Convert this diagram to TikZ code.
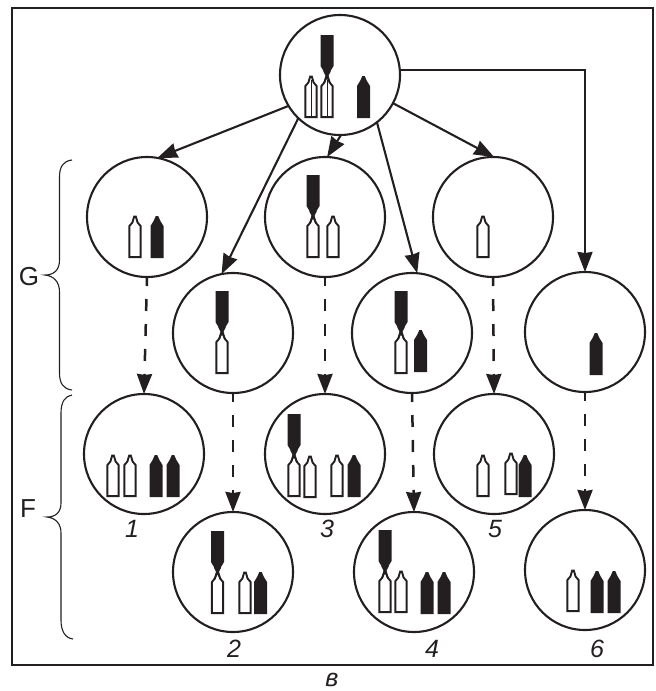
\documentclass[tikz,border=0pt]{standalone}
\usepackage{fontspec}
\setmainfont{Liberation Sans}
\usetikzlibrary{arrows.meta}
\definecolor{encre}{HTML}{231F20}
\tikzset{
	cellule/.style={draw=encre,circle,line width=2.1pt,minimum size=120pt,inner sep=0pt,outer sep=0pt},
	fleche/.style={-{Stealth[length=20pt,width=15pt,inset=1pt]},line width=2.1pt,draw=encre},
	filiation/.style={fleche,line width=2.5pt,dash pattern=on 12pt off 13pt,dash phase=3pt},
	chiffre/.style={font=\itshape\fontsize{25}{25}\selectfont,text=encre,inner sep=0pt},
	lettre/.style={font=\fontsize{26}{26}\selectfont,text=encre,inner sep=0pt},
	accolade/.style={draw=encre,line width=1.1pt},
	pics/blanc/.style={code={
		\draw [draw=encre,fill=white,line width=1.9pt,line join=miter] (-5.6,-0.9) -- (-5.6,-32) -- (-2.6,-35.5) -- (-0.8,-41.5) -- (0.8,-41.5) -- (2.6,-35.5) -- (5.6,-32) -- (5.6,-0.9) -- cycle;
	}},
	pics/noir/.style={code={
		\fill [encre] (-6.5,0) -- (-6.5,-32) -- (-3.4,-37) -- (-1.2,-42) -- (1.2,-42) -- (3.4,-37) -- (6.5,-32) -- (6.5,0) -- cycle;
	}},
	pics/trait/.style={code={
		\draw [draw=encre,line width=0.8pt] (0,-1) -- (0,-38);
	}},
	pics/long/.style={code={
		\pic {blanc};
		\draw [draw=encre,line width=1.6pt] (-3.2,-35) -- (3,-47);
		\draw [draw=encre,line width=1.6pt] (3.2,-35) -- (-3,-47);
		\fill [encre] (-6.5,-83) -- (6.5,-83) -- (6.5,-52) -- (3.5,-47) -- (1,-42) -- (-1,-42) -- (-3.5,-47) -- (-6.5,-52) -- cycle;
	}}
}
\begin{document}
\begin{tikzpicture}[x=1pt,y=-1pt]
	\useasboundingbox (0,0) rectangle (656,691);
	\draw [draw=encre,line width=2.2pt] (12,8) rectangle (653,665);
	% Cellules
	\draw (340,75) node [cellule] (mere) {};
	\draw (147,217) node [cellule] (g1) {};
	\draw (233,333) node [cellule] (g2) {};
	\draw (325,217) node [cellule] (g3) {};
	\draw (412,333) node [cellule] (g4) {};
	\draw (493,217) node [cellule] (g5) {};
	\draw (585,332) node [cellule] (g6) {};
	\draw (144,454) node [cellule] (f1) {};
	\draw (233,572) node [cellule] (f2) {};
	\draw (325,454) node [cellule] (f3) {};
	\draw (414,572) node [cellule] (f4) {};
	\draw (494,454) node [cellule] (f5) {};
	\draw (585,570) node [cellule] (f6) {};
	% Flèches
	\draw [fleche] (mere.211) -- (g1.80);
	\draw [fleche] (mere.226) -- (g2.101);
	\draw [fleche] (mere.271) -- (g3.88);
	\draw [fleche] (mere.-52) -- (g4.85);
	\draw [fleche] (mere.-28) -- (g5.89);
	\draw [fleche] (mere.5) -| (g6.north);
	\draw [filiation] (g1.south) -- (f1.north);
	\draw [filiation] (g2.south) -- (f2.north);
	\draw [filiation] (g3.south) -- (f3.north);
	\draw [filiation] (g4.south) -- (f4.north);
	\draw [filiation] (g5.south) -- (f5.north);
	\draw [filiation] (g6.south) -- (f6.north);
	% Chromosomes
	\draw (311,118) pic {blanc} pic {trait};
	\draw (327,118) pic {long} pic {trait};
	\draw (363.5,118) pic {noir};
	\draw (135,258) pic {blanc};
	\draw (157,258) pic {noir};
	\draw (222,374) pic {long};
	\draw (313,258) pic {long};
	\draw (333,258) pic {blanc};
	\draw (401,374) pic {long};
	\draw (420.5,372) pic {noir};
	\draw (483,258) pic {blanc};
	\draw (596,375) pic {noir};
	\draw (113,497) pic {blanc};
	\draw (130,497) pic {blanc};
	\draw (156,497) pic {noir};
	\draw (173,497) pic {noir};
	\draw (217.5,614) pic {long};
	\draw (245,614) pic {blanc};
	\draw (260.5,614) pic {noir};
	\draw (294,497) pic {long};
	\draw (310,498) pic {blanc};
	\draw (337,497) pic {blanc};
	\draw (354,497) pic {noir};
	\draw (385,613) pic {long};
	\draw (401,613) pic {blanc};
	\draw (427,614) pic {noir};
	\draw (444,614) pic {noir};
	\draw (483,497) pic {blanc};
	\draw (511,495) pic {blanc};
	\draw (525,497) pic {noir};
	\draw (573,612) pic {blanc};
	\draw (597,613) pic {noir};
	\draw (614,613) pic {noir};
	% Accolades
	\draw [accolade] (72,160) .. controls (63,161) and (59.5,167) .. (59.5,177) -- (59.5,260) .. controls (59.5,270) and (54,275) .. (45,275) .. controls (54,276) and (59.5,282) .. (59.5,292) -- (59.5,373) .. controls (59.5,383) and (63,389) .. (72,390);
	\draw [accolade] (72,395) .. controls (65,396) and (61,402) .. (61,413) -- (61,503) .. controls (61,512) and (56,517) .. (47,517) .. controls (56,518) and (61,524) .. (61,533) -- (61,620) .. controls (61,631) and (65,638) .. (73,639);
	% Textes
	\draw (29,277) node [lettre] (lg) {G};
	\draw (28,509) node [lettre] (lf) {F};
	\draw (132,529) node [chiffre] (n1) {1};
	\draw (234,649) node [chiffre] (n2) {2};
	\draw (327,529) node [chiffre] (n3) {3};
	\draw (432,649) node [chiffre] (n4) {4};
	\draw (495,529) node [chiffre] (n5) {5};
	\draw (597,649) node [chiffre] (n6) {6};
	\draw (332,680) node [chiffre] (legende) {в};
\end{tikzpicture}
\end{document}
